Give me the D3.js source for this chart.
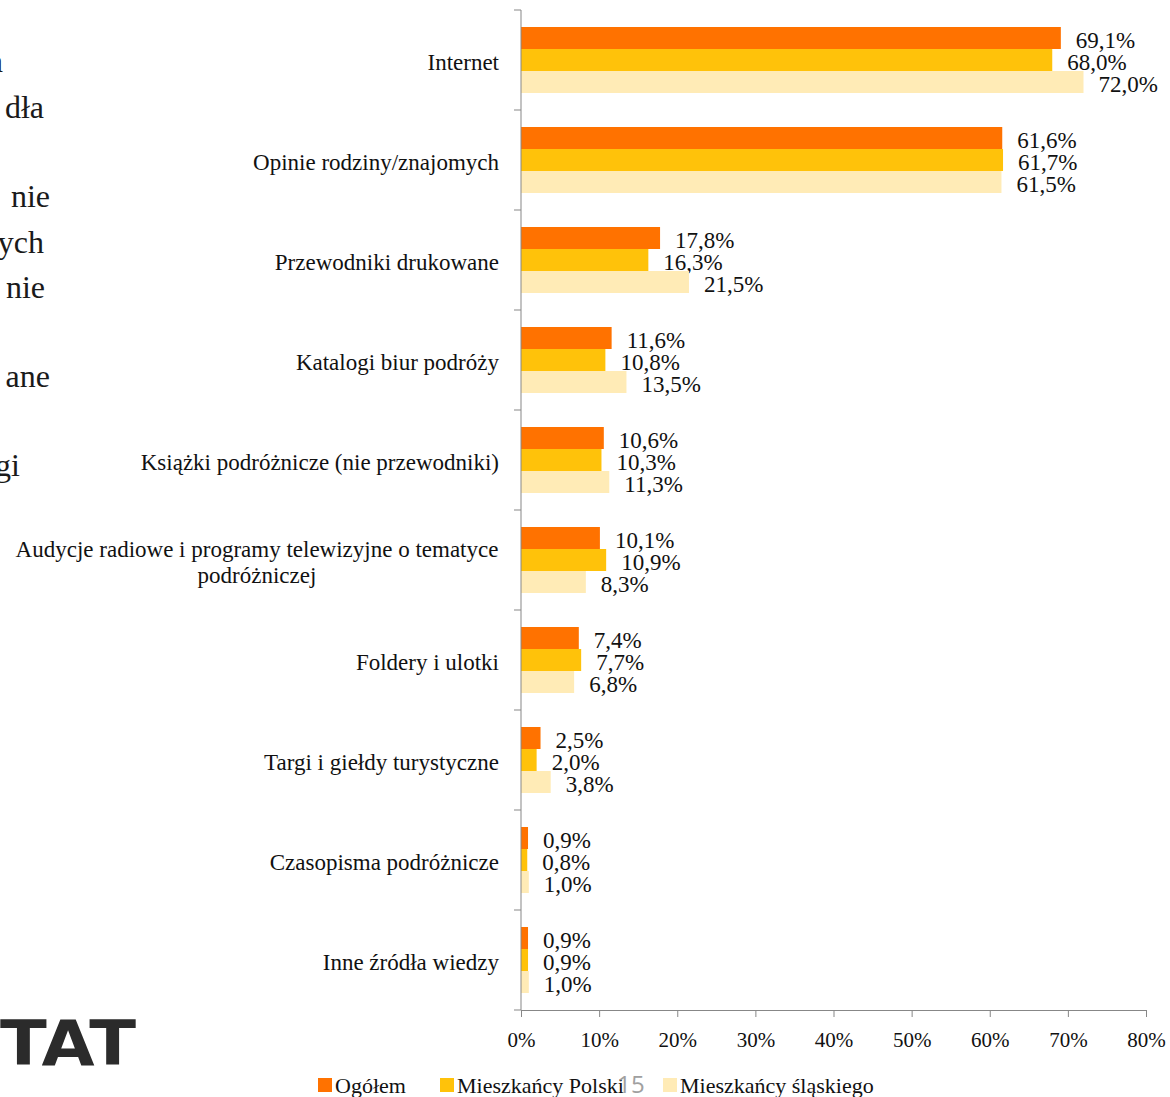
<!DOCTYPE html>
<html><head><meta charset="utf-8">
<script src="https://cdn.jsdelivr.net/npm/d3@7"></script>
<style>body{margin:0;background:#fff}svg{display:block}</style>
</head><body>
<svg id="c" width="1170" height="1097"></svg>
<script>
const categories = ["Internet","Opinie rodziny/znajomych","Przewodniki drukowane","Katalogi biur podróży","Książki podróżnicze (nie przewodniki)","Audycje radiowe i programy  telewizyjne o tematyce\npodróżniczej","Foldery i ulotki","Targi i giełdy turystyczne","Czasopisma podróżnicze","Inne źródła wiedzy"];
const seriesNames = ["Ogółem","Mieszkańcy Polski","Mieszkańcy śląskiego"];
const ogolem = [69.1,61.6,17.8,11.6,10.6,10.1,7.4,2.5,0.9,0.9];
const polski = [68.0,61.7,16.3,10.8,10.3,10.9,7.7,2.0,0.8,0.9];
const slaskie = [72.0,61.5,21.5,13.5,11.3,8.3,6.8,3.8,1.0,1.0];
const xTicks = [0,10,20,30,40,50,60,70,80];
const colors = ["#FF7200","#FFC20A","#FFEBB6"];
const sideFragments = [["a",62],["dła",108],["nie",197],["ych",243],["nie",288],["ane",377],["gi",466]];

const series = [ogolem, polski, slaskie];
const svg = d3.select("#c");
const font = "'Liberation Serif', serif";
const x = d3.scaleLinear().domain([0,80]).range([521,1146]);
const y = d3.scaleBand().domain(categories).range([10,1010]).paddingInner(0.34).paddingOuter(0.17);
const ySub = d3.scaleBand().domain([0,1,2]).range([0,y.bandwidth()]);
const fmt = v => d3.format(".1f")(v).replace(".",",")+"%";

// side fragments of slide text (cut off at the left edge in the original slide)
const frag = svg.append("g").attr("font-family",font).attr("font-size",32).attr("fill","#1a1a1a");
const fragX = [3,44,50,44,45,50,20];
sideFragments.forEach(([t,yy],i)=>{
  frag.append("text").attr("x", fragX[i]).attr("y",yy+10).attr("text-anchor","end").text(t);
});
// logo fragment
svg.append("text").attr("x",0).attr("y",1065)
  .attr("font-family","'DejaVu Sans', sans-serif").attr("font-weight","bold")
  .attr("font-size",62).attr("fill","#2b2b2b")
  .attr("textLength",136).attr("lengthAdjust","spacingAndGlyphs").text("TAT");

// bars
const g = svg.append("g");
series.forEach((s,si)=>{
  g.selectAll(null).data(categories).enter().append("rect")
    .attr("x",x(0)).attr("y",d=>y(d)+ySub(si))
    .attr("width",(d,i)=>x(s[i])-x(0)).attr("height",ySub.bandwidth())
    .attr("fill",colors[si]);
  g.selectAll(null).data(categories).enter().append("text")
    .attr("x",(d,i)=>x(s[i])+15).attr("y",d=>y(d)+ySub(si)+ySub.bandwidth()/2+2)
    .attr("dy","0.35em").attr("font-family",font).attr("font-size",23).attr("fill","#111")
    .text((d,i)=>fmt(s[i]));
});

// y axis
const axCol = "#878787";
const yAx = svg.append("g");
yAx.append("line").attr("x1",521).attr("x2",521).attr("y1",10).attr("y2",1010).attr("stroke",axCol);
d3.range(11).forEach(i=>{
  const yy = 10 + i*100;
  yAx.append("line").attr("x1",514).attr("x2",521).attr("y1",yy).attr("y2",yy).attr("stroke",axCol);
});
categories.forEach(c=>{
  const lines = c.split("\n");
  const cy = y(c)+y.bandwidth()/2+2;
  const t = svg.append("text").attr("font-family",font).attr("font-size",23).attr("fill","#111")
    .attr("text-anchor", lines.length>1 ? "middle":"end");
  if(lines.length===1){
    t.attr("x",499).attr("y",cy).attr("dy","0.35em").text(c);
  } else {
    lines.forEach((l,k)=>t.append("tspan").attr("x",257).attr("y",cy+(k-0.5)*26).attr("dy","0.35em").text(l));
  }
});

// x axis
const xAx = svg.append("g").attr("transform","translate(0,1010)")
  .call(d3.axisBottom(x).tickValues(xTicks).tickSize(7).tickSizeOuter(0).tickPadding(15).tickFormat(d=>d+"%"));
xAx.select(".domain").attr("stroke",axCol);
xAx.selectAll(".tick line").attr("stroke",axCol);
xAx.selectAll("text").attr("font-family",font).attr("font-size",21).attr("fill","#111");

// legend
const leg = svg.append("g").attr("font-family",font).attr("font-size",22).attr("fill","#111");
const legX = [318,440,663];
seriesNames.forEach((n,i)=>{
  leg.append("rect").attr("x",legX[i]).attr("y",1078).attr("width",14).attr("height",14).attr("fill",colors[i]);
  leg.append("text").attr("x",legX[i]+17).attr("y",1093).text(n);
});
// page number
svg.append("text").attr("x",631).attr("y",1093).attr("text-anchor","middle")
  .attr("font-family","'Open Sans', sans-serif").attr("font-size",24).attr("fill","#a0a0a0").text("15");
</script>
</body></html>
